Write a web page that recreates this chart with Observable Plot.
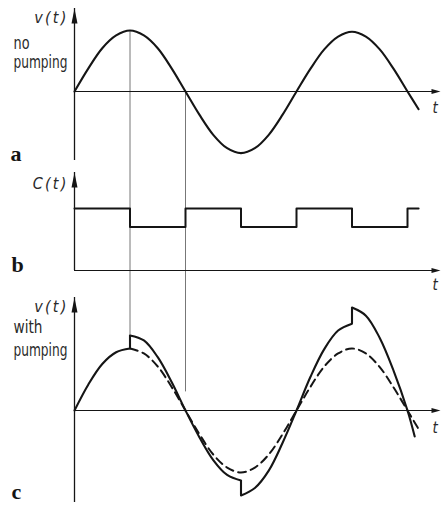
<!DOCTYPE html>
<html><head><meta charset="utf-8">
<script src="https://cdn.jsdelivr.net/npm/d3@7"></script>
<script src="https://cdn.jsdelivr.net/npm/@observablehq/plot@0.6"></script>
<style>
html,body{margin:0;padding:0;background:#fff;}
#chart{width:441px;height:505px;overflow:hidden;background:#fff;}
#chart svg{display:block;}
</style></head><body><div id="chart"></div>
<script>
// ---------- data (time t in quarter periods of the signal) ----------
// a: free oscillation, no pumping
const tA = [0,0.25,0.5,0.75,1,1.25,1.5,1.75,2,2.25,2.5,2.75,3,3.25,3.5,3.75,4,4.25,4.5,4.75,5,5.25,5.5,5.75,6,6.2];
const vA = [0,0.38,0.71,0.92,1.0,0.92,0.71,0.38,0,-0.38,-0.71,-0.93,-1.01,-0.93,-0.71,-0.38,0,0.37,0.69,0.90,0.98,0.90,0.69,0.37,0,-0.29];
// b: pumped capacitance (step changes every quarter period)
const tC = [0,1,2,3,4,5,6,6.2];
const vC = [1,0.7,1,0.7,1,0.7,1,1];
// c: with pumping - dashed reference oscillation
const tDash = [1,1.25,1.5,1.75,2,2.25,2.5,2.75,3,3.25,3.5,3.75,4,4.25,4.5,4.75,5,5.25,5.5,5.75,6,6.2];
const vDash = [1.0,0.92,0.71,0.38,0,-0.38,-0.71,-0.92,-1.0,-0.92,-0.71,-0.38,0,0.38,0.71,0.92,1.0,0.92,0.70,0.37,0,-0.30];
// c: with pumping - solid growing oscillation, continuous pieces between jumps
const tS0 = [0,0.25,0.5,0.75,1];
const vS0 = [0,0.42,0.75,0.94,1.0];
const tS1 = [1,1.25,1.5,1.75,2,2.25,2.5,2.75,3];
const vS1 = [1.21,1.13,0.86,0.46,0,-0.43,-0.80,-1.04,-1.13];
const tS2 = [3,3.25,3.5,3.75,4,4.25,4.5,4.75,5];
const vS2 = [-1.37,-1.25,-0.97,-0.52,0,0.54,0.99,1.29,1.40];
const tS3 = [5,5.25,5.5,5.75,6,6.13];
const vS3 = [1.66,1.53,1.17,0.64,0,-0.42];
// jumps in the solid curve at the capacitance switching instants
const jumpT = [1,3,5];
const jumpFrom = [1.0,-1.13,1.40];
const jumpTo = [1.21,-1.37,1.66];
// thin guide lines connecting the panels
const guideT = [1,2];
const guideTopA = [1.0,0];
const guideEndC = [1.21,0.3];
// labels
const panelLetters = ["a","b","c"];
const yLabels = ["v(t)","C(t)","v(t)"];
const sideLabelsA = ["no","pumping"];
const sideLabelsC = ["with","pumping"];
const timeLabel = "t";

// ---------- layout ----------
const W = 441, X0 = 74, PXT = 55.5;
const xDomain = [-X0 / PXT, (W - X0) / PXT];
const tTip = (440 - X0) / PXT;
const ink = "#151515", guideInk = "#777";
const sans = "'Liberation Sans Narrow','DejaVu Sans Condensed','Liberation Sans',sans-serif";
const serif = "'Liberation Serif','DejaVu Serif',serif";
// rendered widths of the side captions (squeezed like the narrow typeface of the original)
const squeeze = {"no": 16, "with": 29, "pumping": 54};

const arrowV = {draw(ctx){ctx.moveTo(0,0);ctx.lineTo(3,15);ctx.lineTo(-3,15);ctx.closePath();}};
const arrowH = {draw(ctx){ctx.moveTo(0,0);ctx.lineTo(2.6,9);ctx.lineTo(-2.6,9);ctx.closePath();}};

const zip = (t, v, extra = {}) => t.map((d, i) => ({t: d, v: v[i], ...extra}));

function label(text, dx, dy, o = {}) {
  return Plot.text([text], {frameAnchor: "top-left", dx, dy, lineAnchor: "bottom",
    textAnchor: "start", fontSize: 17, fontFamily: sans, fill: "#2a2a2a", ...o});
}
function letter(text, dx, dy) {
  return Plot.text([text], {frameAnchor: "top-left", dx, dy, lineAnchor: "bottom",
    textAnchor: "start", fontSize: 22, fontWeight: "bold", fontFamily: serif, fill: ink});
}
function yLab(text, dy) {
  return label(text, 68, dy, {textAnchor: "end", fontStyle: "italic", fontSize: 16});
}
function tLab(dy) {
  return label(timeLabel, 432, dy, {fontStyle: "italic", fontSize: 15});
}
function axes(vTop, vBottom) {
  return [
    Plot.ruleX([0], {y1: vBottom, y2: vTop, stroke: ink, strokeWidth: 1.3}),
    Plot.ruleY([0], {x1: 0, x2: tTip - 0.1, stroke: ink, strokeWidth: 1.2}),
    Plot.dot([{t: 0, v: vTop}], {x: "t", y: "v", symbol: arrowV, fill: ink, stroke: "none"}),
    Plot.dot([{t: tTip, v: 0}], {x: "t", y: "v", symbol: arrowH, rotate: 90, fill: ink, stroke: "none"})
  ];
}
function panel(h, base, k, marks) {
  const svg = Plot.plot({
    width: W, height: h, marginTop: 0, marginRight: 0, marginBottom: 0, marginLeft: 0,
    x: {domain: xDomain, range: [0, W], axis: null},
    y: {domain: [(base - h) / k, base / k], range: [h, 0], axis: null},
    marks
  });
  const texts = d3.select(svg).selectAll("text");
  texts.filter(function(){ return /\(t\)/.test(this.textContent); })
    .attr("letter-spacing", "2.2px");
  texts.filter(function(){ return squeeze[this.textContent] != null; })
    .attr("textLength", function(){ return squeeze[this.textContent]; })
    .attr("lengthAdjust", "spacingAndGlyphs");
  return svg;
}

// panel a : svg 0..166, baseline 91, 61 px per unit
const hA = 166, baseA = 91, kA = 61;
const botA = (baseA - hA) / kA;
const svgA = panel(hA, baseA, kA, [
  Plot.ruleX(zip(guideT, guideTopA), {x: "t", y1: "v", y2: botA, stroke: guideInk, strokeWidth: 1}),
  ...axes((baseA - 8) / kA, (baseA - 160) / kA),
  Plot.line(zip(tA, vA), {x: "t", y: "v", curve: "catmull-rom", stroke: ink, strokeWidth: 2.1}),
  yLab(yLabels[0], 22),
  label(sideLabelsA[0], 13, 48),
  label(sideLabelsA[1], 13, 67),
  letter(panelLetters[0], 10, 160),
  tLab(112)
]);

// panel b : svg 166..294, baseline at 270 -> 104 local, 62 px per unit
const hB = 128, baseB = 104, kB = 62;
const svgB = panel(hB, baseB, kB, [
  Plot.ruleX(guideT, {stroke: guideInk, strokeWidth: 1}),
  ...axes((baseB - 6) / kB, 0),
  Plot.line(zip(tC, vC), {x: "t", y: "v", curve: "step-after", stroke: ink, strokeWidth: 2}),
  yLab(yLabels[1], 22),
  letter(panelLetters[1], 11, 105),
  tLab(123)
]);

// panel c : svg 294..505, baseline at 410 -> 116 local, 62 px per unit
const hC = 211, baseC = 116, kC = 62;
const topC = baseC / kC;
const solid = [...zip(tS0, vS0, {s: 0}), ...zip(tS1, vS1, {s: 1}), ...zip(tS2, vS2, {s: 2}), ...zip(tS3, vS3, {s: 3})];
const svgC = panel(hC, baseC, kC, [
  Plot.ruleX(zip(guideT, guideEndC), {x: "t", y1: topC, y2: "v", stroke: guideInk, strokeWidth: 1}),
  ...axes((baseC - 3) / kC, (baseC - 208) / kC),
  Plot.line(zip(tDash, vDash), {x: "t", y: "v", curve: "catmull-rom", stroke: ink, strokeWidth: 2, strokeDasharray: "8,5"}),
  Plot.line(solid, {x: "t", y: "v", z: "s", curve: "catmull-rom", stroke: ink, strokeWidth: 2.1}),
  Plot.ruleX(jumpT.map((t, i) => ({t, a: jumpFrom[i], b: jumpTo[i]})), {x: "t", y1: "a", y2: "b", stroke: ink, strokeWidth: 2.1}),
  yLab(yLabels[2], 17),
  label(sideLabelsC[0], 13, 38),
  label(sideLabelsC[1], 13, 61),
  letter(panelLetters[2], 11, 204),
  tLab(138)
]);

const root = document.getElementById("chart");
root.append(svgA, svgB, svgC);
</script>
</body></html>
